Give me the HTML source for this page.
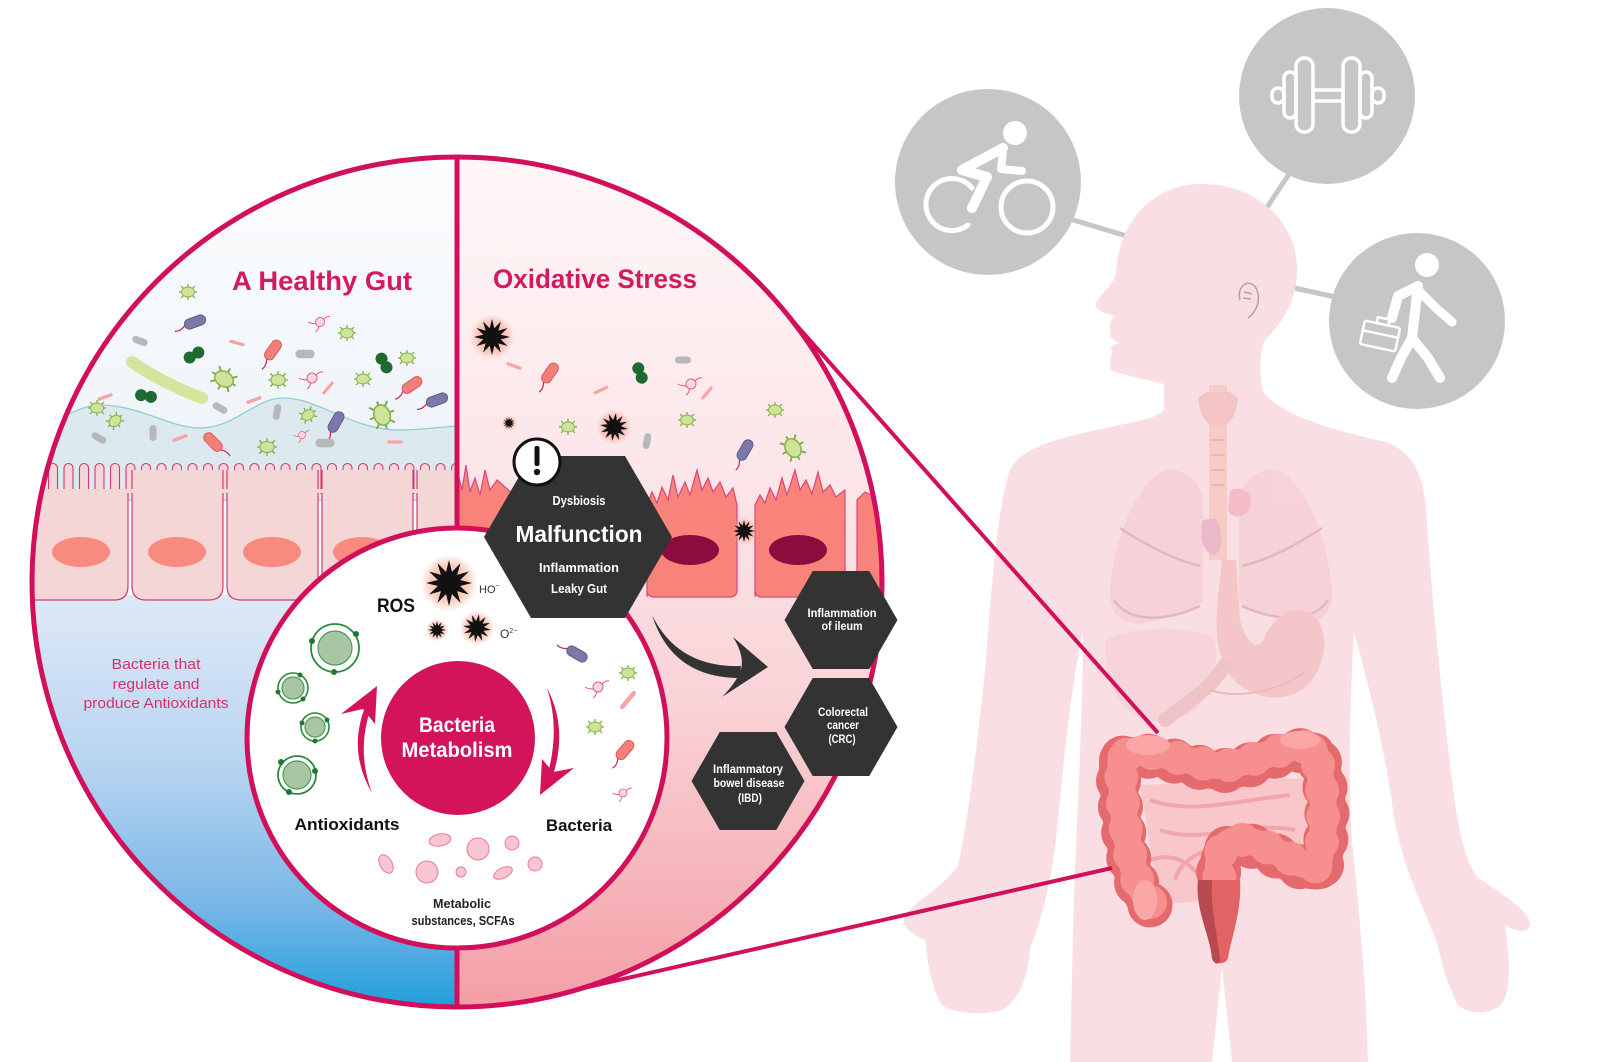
<!DOCTYPE html>
<html><head><meta charset="utf-8"><style>
html,body{margin:0;padding:0;background:#fff;}
svg{display:block;}
text{font-family:"Liberation Sans",sans-serif;}
</style></head><body>
<svg width="1600" height="1062" viewBox="0 0 1600 1062" xmlns="http://www.w3.org/2000/svg">
<defs>
  <clipPath id="bigc"><circle cx="457" cy="582" r="425"/></clipPath>
  <linearGradient id="ltop" x1="0" y1="157" x2="0" y2="470" gradientUnits="userSpaceOnUse">
    <stop offset="0" stop-color="#fcfdfe"/><stop offset="1" stop-color="#eef3f9"/></linearGradient>
  <linearGradient id="lbot" x1="0" y1="595" x2="0" y2="1010" gradientUnits="userSpaceOnUse">
    <stop offset="0" stop-color="#dfe9f7"/><stop offset="0.4" stop-color="#b9d5f1"/><stop offset="0.75" stop-color="#78b6e6"/><stop offset="1" stop-color="#1f9edb"/></linearGradient>
  <linearGradient id="rgr" x1="0" y1="157" x2="0" y2="1010" gradientUnits="userSpaceOnUse">
    <stop offset="0" stop-color="#fef7f8"/><stop offset="0.4" stop-color="#fce4e7"/><stop offset="0.65" stop-color="#f9d2d6"/><stop offset="1" stop-color="#f39ea5"/></linearGradient>
  <radialGradient id="glow"><stop offset="0.6" stop-color="#f59c86" stop-opacity="0.55"/><stop offset="1" stop-color="#f59c86" stop-opacity="0"/></radialGradient>
  <pattern id="villi" x="0" y="462" width="15.5" height="40" patternUnits="userSpaceOnUse">
    <path d="M2,40 L2,6 A4.5,4.5 0 0 1 11,6 L11,40" fill="#f5d6d6" stroke="#d43a74" stroke-width="1.1"/>
  </pattern>
  <g id="gb"><path d="M-9,0H-6M9,0H6M0,-8V-5M0,8V5M-7,-6L-4.5,-3.5M7,-6L4.5,-3.5M-7,6L-4.5,3.5M7,6L4.5,3.5" stroke="#79a843" stroke-width="1.2"/><ellipse rx="6.5" ry="5" fill="#cfe49a" stroke="#86b64a" stroke-width="1"/></g>
  <g id="rp"><path d="M-11,0 Q-17,4 -22,2" stroke="#c4205e" fill="none" stroke-width="1.2"/><rect x="-11" y="-5" width="22" height="10" rx="5" fill="#7c79a8" stroke="#5f5b8e"/></g>
  <g id="rs"><path d="M-11,0 Q-17,4 -22,2" stroke="#c4205e" fill="none" stroke-width="1.2"/><rect x="-11" y="-5" width="22" height="10" rx="5" fill="#f47f79" stroke="#d55d63"/></g>
  <g id="rg"><rect x="-8" y="-3.5" width="16" height="7" rx="3.5" fill="#b8b8b8"/></g>
  <g id="pl"><rect x="-8" y="-1.6" width="16" height="3.2" rx="1.6" fill="#f8a4a2"/></g>
  <g id="dc"><circle cx="-5" r="6" fill="#1e6b31"/><circle cx="5" r="6" fill="#1e6b31"/></g>
  <g id="pc"><path d="M-4,2 Q-10,2 -13,0 M-1,4 Q-2,9 -5,11 M4,-3 Q8,-7 11,-6" stroke="#e2537c" fill="none" stroke-width="1"/><circle r="5" fill="#fcd9de" stroke="#e0617f" stroke-width="1"/></g>
  <g id="st"><circle r="12.5" fill="url(#glow)"/><path d="M10,0 L4.83,1.29 L8.66,5 L3.54,3.54 L5,8.66 L1.29,4.83 L0,10 L-1.29,4.83 L-5,8.66 L-3.54,3.54 L-8.66,5 L-4.83,1.29 L-10,0 L-4.83,-1.29 L-8.66,-5 L-3.54,-3.54 L-5,-8.66 L-1.29,-4.83 L0,-10 L1.29,-4.83 L5,-8.66 L3.54,-3.54 L8.66,-5 L4.83,-1.29 Z" fill="#111"/></g>
</defs>

<!-- connectors to icons -->
<g stroke="#c6c6c6" stroke-width="5">
  <line x1="1060" y1="216" x2="1140" y2="240"/>
  <line x1="1295" y1="165" x2="1262" y2="215"/>
  <line x1="1285" y1="286" x2="1340" y2="298"/>
</g>

<!-- body -->
<path fill="#f9dfe3" d="M1197,184 C1255,182 1300,222 1297,275 C1295,305 1280,325 1265,340 C1258,355 1260,375 1263,392 C1285,418 1335,430 1385,442 C1412,450 1424,475 1426,510 C1432,600 1442,700 1452,780 C1458,830 1465,862 1478,878 C1500,892 1528,910 1530,923 C1530,933 1518,933 1505,925 C1510,960 1512,995 1500,1005 C1490,1015 1470,1015 1458,1005 C1448,985 1440,960 1438,945 C1420,900 1400,860 1393,810 C1385,750 1370,690 1354,632 C1350,700 1348,780 1352,840 C1358,900 1366,980 1368,1062 L1232,1062 L1222,968 L1212,1062 L1070,1062 C1072,980 1073,920 1075,870 C1078,800 1083,700 1083,632 C1070,690 1062,780 1056,840 C1050,890 1038,930 1030,948 C1028,985 1012,1012 992,1012 C975,1015 950,1012 942,1005 C932,990 928,965 925,940 C912,935 900,925 905,915 C915,902 945,885 958,866 C968,820 978,740 986,660 C992,580 998,505 1010,470 C1020,450 1045,442 1095,430 C1135,422 1158,418 1164,410 L1164,384 C1150,380 1125,376 1111,370 C1108,360 1112,355 1113,351 C1108,348 1112,345 1120,343 C1112,340 1108,336 1111,334 C1108,325 1112,318 1115,316 C1100,312 1094,308 1096,303 C1100,295 1112,285 1115,277 C1118,255 1120,240 1131,223 C1145,200 1170,185 1197,184 Z"/>
<!-- ear -->
<path d="M1240,300 C1236,285 1250,278 1256,288 C1262,300 1256,312 1248,318 M1244,292 L1252,294 M1243,298 L1251,299" stroke="#c09aa4" stroke-width="1.5" fill="none"/>
<!-- organs -->
<g opacity="0.9">
  <path d="M1165,470 C1140,480 1115,530 1110,590 C1108,615 1125,628 1150,622 C1175,616 1195,612 1203,600 L1203,500 C1200,480 1185,468 1165,470 Z" fill="#f6d0d6"/>
  <path d="M1277,470 C1302,480 1327,530 1332,590 C1334,615 1317,628 1292,622 C1267,616 1247,612 1239,600 L1239,500 C1242,480 1257,468 1277,470 Z" fill="#f6d0d6"/>
  <path d="M1120,528 C1150,548 1175,560 1200,566 M1114,600 C1130,625 1170,620 1200,606 M1322,528 C1292,548 1267,560 1242,566 M1328,600 C1312,625 1272,620 1242,606" stroke="#dcb5bc" stroke-width="2.5" fill="none"/>
  <path d="M1105,640 C1130,625 1200,625 1215,640 C1220,690 1200,720 1160,722 C1125,722 1105,690 1105,640 Z" fill="#f7d3d8"/>
  <path d="M1222,560 C1218,600 1212,630 1222,660 C1235,700 1290,710 1312,680 C1330,655 1328,622 1308,612 C1288,604 1270,622 1262,642 C1254,650 1246,640 1240,620 L1236,560 Z" fill="#f4c4c8"/>
  <path d="M1225,665 C1210,690 1190,700 1165,720" stroke="#eec0c3" stroke-width="14" fill="none" stroke-linecap="round"/>
  <path d="M1210,690 C1240,700 1280,690 1305,672" stroke="#e9b6ba" stroke-width="2" fill="none"/>
  <rect x="1209" y="385" width="18" height="175" fill="#f7cbc4"/>
  <path d="M1198,398 C1200,420 1210,428 1218,425 C1226,428 1236,420 1238,398 L1230,392 L1206,392 Z" fill="#f4c0c0"/>
  <g stroke="#e8aaa6" stroke-width="1.5"><line x1="1211" y1="440" x2="1225" y2="440"/><line x1="1211" y1="455" x2="1225" y2="455"/><line x1="1211" y1="470" x2="1225" y2="470"/><line x1="1211" y1="485" x2="1225" y2="485"/></g>
  <path d="M1230,490 C1245,485 1255,495 1250,508 C1245,518 1232,520 1228,510 Z" fill="#f3b9c4"/>
  <path d="M1203,520 C1198,540 1205,555 1215,555 C1225,548 1222,525 1215,518 Z" fill="#e9b7c6"/>
</g>
<!-- small intestine -->
<path d="M1140,785 L1305,778 L1308,860 L1255,836 L1215,845 L1205,900 L1160,905 Z" fill="#f9c6c9"/>
<path d="M1150,800 C1190,815 1240,800 1290,795 M1160,830 C1200,845 1250,820 1295,830 M1150,860 C1180,850 1200,870 1205,890 M1175,880 C1180,860 1200,850 1230,845" stroke="#f1a6ab" stroke-width="4" fill="none"/>
<!-- colon -->
<g fill="none" stroke-linecap="round" stroke-linejoin="round">
  <path d="M1150,905 C1125,880 1118,800 1118,760 C1150,745 1200,775 1230,770 C1260,765 1290,745 1315,752 C1330,780 1330,840 1320,870 C1300,875 1260,840 1235,845 C1215,850 1218,870 1220,885" stroke="#e46a6d" stroke-width="38"/>
  <path d="M1150,905 C1125,880 1118,800 1118,760 C1150,745 1200,775 1230,770 C1260,765 1290,745 1315,752 C1330,780 1330,840 1320,870 C1300,875 1260,840 1235,845 C1215,850 1218,870 1220,885" stroke="#e46a6d" stroke-width="45" stroke-dasharray="0 26"/>
  <path d="M1150,902 C1127,878 1121,800 1121,757 C1150,742 1200,770 1230,765 C1260,760 1290,742 1313,748 C1326,780 1326,840 1317,866 C1300,870 1260,836 1235,840 C1215,846 1218,868 1220,882" stroke="#f68f8e" stroke-width="27"/>
  <path d="M1150,902 C1127,878 1121,800 1121,757 C1150,742 1200,770 1230,765 C1260,760 1290,742 1313,748 C1326,780 1326,840 1317,866 C1300,870 1260,836 1235,840 C1215,846 1218,868 1220,882" stroke="#f68f8e" stroke-width="34" stroke-dasharray="0 26"/>
</g>
<ellipse cx="1148" cy="745" rx="22" ry="10" fill="#fba6a6"/>
<ellipse cx="1300" cy="740" rx="20" ry="9" fill="#fba6a6"/>
<ellipse cx="1145" cy="900" rx="12" ry="20" fill="#fba6a6"/>
<path d="M1198,880 C1195,910 1210,935 1212,958 C1214,965 1226,965 1228,958 C1232,935 1242,910 1240,880 Z" fill="#e26363"/>
<path d="M1198,880 C1195,910 1210,935 1212,958 C1214,965 1220,965 1220,960 C1218,935 1210,910 1212,880 Z" fill="#b64a50"/>

<!-- pink connector lines -->
<g stroke="#d10f5b" stroke-width="4">
  <line x1="775" y1="301" x2="1158" y2="733"/>
  <line x1="548" y1="996" x2="1112" y2="868"/>
</g>

<!-- icon circles -->
<circle cx="988" cy="182" r="93" fill="#c6c6c6"/>
<circle cx="1327" cy="96" r="88" fill="#c6c6c6"/>
<circle cx="1417" cy="321" r="88" fill="#c6c6c6"/>
<!-- bike -->
<g fill="none" stroke="#fff" stroke-linecap="round" stroke-linejoin="round">
  <path d="M972,188 A26,26 0 1 0 968,225" stroke-width="5"/>
  <circle cx="1027" cy="207" r="26" stroke-width="5"/>
  <polyline points="1003,148 962,170 987,177 972,208" stroke-width="10"/>
  <polyline points="1003,150 1001,169 1022,171" stroke-width="8"/>
</g>
<circle cx="1015" cy="133" r="12" fill="#fff"/>
<!-- dumbbell -->
<g fill="none" stroke="#fff" stroke-width="3.5">
  <rect x="1313" y="90" width="30" height="11"/>
  <rect x="1296" y="58" width="17" height="74" rx="8"/>
  <rect x="1284" y="72" width="12" height="46" rx="6"/>
  <rect x="1272" y="88" width="12" height="15" rx="6"/>
  <rect x="1343" y="58" width="17" height="74" rx="8"/>
  <rect x="1360" y="72" width="12" height="46" rx="6"/>
  <rect x="1372" y="88" width="12" height="15" rx="6"/>
</g>
<!-- walker -->
<g fill="none" stroke="#fff" stroke-linecap="round" stroke-linejoin="round">
  <polyline points="1392,318 1398,296 1418,286 1412,338 1401,358 1392,378" stroke-width="10"/>
  <polyline points="1418,290 1436,308 1452,322" stroke-width="9"/>
  <polyline points="1412,338 1428,358 1440,378" stroke-width="10"/>
  <g transform="rotate(12 1380 336)" stroke-width="2.5"><rect x="1362" y="324" width="36" height="24" rx="2"/><rect x="1374" y="318" width="12" height="6"/><line x1="1362" y1="334" x2="1398" y2="334"/></g>
</g>
<circle cx="1427" cy="265" r="12" fill="#fff"/>

<!-- big circle -->
<g clip-path="url(#bigc)">
  <rect x="30" y="150" width="427" height="330" fill="url(#ltop)"/>
  <path d="M30,432 C60,420 80,405 100,405 C140,405 170,428 200,428 C235,428 255,398 283,398 C320,398 350,430 400,430 C420,430 440,427 457,426 L457,500 L30,500 Z" fill="#dce9ef" stroke="#8fcfcf" stroke-width="1.3"/>
  <rect x="30" y="595" width="427" height="420" fill="url(#lbot)"/>
  <rect x="457" y="150" width="430" height="865" fill="url(#rgr)"/>
  <!-- healthy cells -->
  <rect x="30" y="462" width="427" height="32" fill="url(#villi)"/>
  <g fill="#f5d6d6" stroke="#d43a74" stroke-width="1.2">
    <path d="M30,490 L128,490 L128,586 Q128,600 114,600 L30,600 Z"/>
    <path d="M132,470 L132,586 Q132,600 146,600 L209,600 Q223,600 223,586 L223,470"/>
    <path d="M227,470 L227,586 Q227,600 241,600 L304,600 Q318,600 318,586 L318,470"/>
    <path d="M322,470 L322,586 Q322,600 336,600 L399,600 Q413,600 413,586 L413,470"/>
    <path d="M417,470 L417,600 L457,600 L457,470"/>
  </g>
  <rect x="30" y="489" width="427" height="4" fill="#f5d6d6"/>
  <g fill="#f98a80">
    <ellipse cx="81" cy="552" rx="29" ry="15"/><ellipse cx="177" cy="552" rx="29" ry="15"/>
    <ellipse cx="272" cy="552" rx="29" ry="15"/><ellipse cx="362" cy="552" rx="29" ry="15"/>
  </g>
  <!-- damaged cells -->
  <g fill="#f8837b" stroke="#d9467a" stroke-width="1.2">
    <path d="M457,600 L457,470 L462,490 L466,465 L470,492 L475,478 L480,495 L485,470 L490,490 L497,480 L520,500 L520,600 Z"/>
    <path d="M647,597 L647,505 L652,492 L657,503 L662,487 L668,500 L673,475 L678,497 L685,482 L690,495 L697,470 L702,490 L708,478 L713,492 L720,482 L726,497 L733,488 L737,505 L737,590 Q737,597 730,597 L654,597 Q647,597 647,590 Z"/>
    <path d="M755,597 L755,505 L760,495 L765,503 L770,488 L776,500 L782,478 L787,495 L795,470 L800,490 L806,480 L812,494 L818,472 L823,492 L830,485 L836,497 L845,490 L845,590 Q845,597 838,597 L762,597 Q755,597 755,590 Z"/>
    <path d="M857,597 L857,500 L865,492 L875,497 L885,490 L890,597 Z"/>
  </g>
  <ellipse cx="690" cy="550" rx="29" ry="15" fill="#8e0b3d"/>
  <ellipse cx="798" cy="550" rx="29" ry="15" fill="#8e0b3d"/>
  <!-- healthy bacteria -->
  <path d="M132,362 C150,375 180,390 202,398" stroke="#d5e59d" stroke-width="12" stroke-linecap="round" fill="none"/>
  <use href="#gb" transform="translate(188,292)"/><use href="#gb" transform="translate(347,333)"/>
  <use href="#gb" transform="translate(407,358)"/><use href="#gb" transform="translate(224,379) scale(1.5) rotate(30)"/>
  <use href="#gb" transform="translate(278,380) scale(1.1)"/><use href="#gb" transform="translate(363,379)"/>
  <use href="#gb" transform="translate(97,408)"/><use href="#gb" transform="translate(115,421) rotate(-40)"/>
  <use href="#gb" transform="translate(308,415) rotate(-30)"/><use href="#gb" transform="translate(382,415) scale(1.6) rotate(70)"/>
  <use href="#gb" transform="translate(267,447) scale(1.1)"/>
  <use href="#rp" transform="translate(195,322) rotate(-20)"/><use href="#rp" transform="translate(336,422) rotate(-60)"/>
  <use href="#rp" transform="translate(437,400) rotate(-20)"/>
  <use href="#dc" transform="translate(194,355) rotate(-30)"/><use href="#dc" transform="translate(146,396) rotate(10)"/>
  <use href="#dc" transform="translate(384,363) rotate(60)"/>
  <use href="#rg" transform="translate(140,341) rotate(20)"/><use href="#rg" transform="translate(305,354) scale(1.2)"/>
  <use href="#rg" transform="translate(220,408) rotate(30)"/><use href="#rg" transform="translate(153,433) rotate(90)"/>
  <use href="#rg" transform="translate(277,412) rotate(100)"/><use href="#rg" transform="translate(325,443) scale(1.2)"/>
  <use href="#rg" transform="translate(99,438) rotate(30)"/>
  <use href="#rs" transform="translate(273,350) rotate(-55)"/><use href="#rs" transform="translate(412,385) rotate(-35)"/>
  <use href="#rs" transform="translate(213,442) rotate(-135)"/>
  <use href="#pl" transform="translate(237,343) rotate(15)"/><use href="#pl" transform="translate(105,397) rotate(-20)"/>
  <use href="#pl" transform="translate(254,400) rotate(-20)"/><use href="#pl" transform="translate(328,388) rotate(-50)"/>
  <use href="#pl" transform="translate(180,438) rotate(-20)"/><use href="#pl" transform="translate(395,442)"/>
  <use href="#pc" transform="translate(320,322) scale(0.9)"/><use href="#pc" transform="translate(312,378)"/>
  <use href="#pc" transform="translate(302,435) scale(0.7)"/>
  <!-- oxidative bacteria -->
  <use href="#st" transform="translate(492,337) scale(1.8)"/><use href="#st" transform="translate(509,423) scale(0.6)"/>
  <use href="#st" transform="translate(614,427) scale(1.4) rotate(8)"/><use href="#st" transform="translate(744,531) scale(1.1)"/>
  <use href="#rs" transform="translate(550,373) rotate(-55)"/>
  <use href="#pl" transform="translate(514,366) rotate(20)"/><use href="#pl" transform="translate(601,390) rotate(-25)"/>
  <use href="#pl" transform="translate(707,393) rotate(-50)"/>
  <use href="#dc" transform="translate(640,373) rotate(70)"/>
  <use href="#rg" transform="translate(683,360)"/><use href="#rg" transform="translate(647,441) rotate(100)"/>
  <use href="#pc" transform="translate(691,384)"/>
  <use href="#gb" transform="translate(568,427)"/><use href="#gb" transform="translate(687,420)"/>
  <use href="#gb" transform="translate(775,410)"/><use href="#gb" transform="translate(793,448) scale(1.5) rotate(60)"/>
  <use href="#rp" transform="translate(745,450) rotate(-60)"/>
  <line x1="457" y1="150" x2="457" y2="1015" stroke="#d10f5b" stroke-width="5"/>
</g>
<circle cx="457" cy="582" r="425" fill="none" stroke="#d10f5b" stroke-width="5"/>

<!-- inner circle -->
<circle cx="457" cy="738" r="210" fill="#fff" stroke="#d10f5b" stroke-width="5"/>
<use href="#st" transform="translate(449,583) scale(2.3)"/>
<use href="#st" transform="translate(437,630) scale(0.9)"/>
<use href="#st" transform="translate(477,628) scale(1.4) rotate(8)"/>
<text x="396" y="612" font-size="19" font-weight="bold" fill="#111" text-anchor="middle" textLength="38" lengthAdjust="spacingAndGlyphs">ROS</text>
<text x="479" y="593" font-size="11" fill="#333">HO<tspan font-size="7" dy="-5">−</tspan></text>
<text x="500" y="638" font-size="12" fill="#333">O<tspan font-size="7" dy="-5">2−</tspan></text>
<!-- antioxidants -->
<g>
  <circle cx="335" cy="648" r="24" fill="#fff" stroke="#2a8a3c" stroke-width="1.8"/><circle cx="335" cy="648" r="17" fill="#a9c6a3" stroke="#4d9a5c" stroke-width="1.2"/>
  <circle cx="293" cy="688" r="15" fill="#fff" stroke="#2a8a3c" stroke-width="1.6"/><circle cx="293" cy="688" r="11" fill="#a9c6a3" stroke="#4d9a5c" stroke-width="1.2"/>
  <circle cx="315" cy="727" r="14" fill="#fff" stroke="#2a8a3c" stroke-width="1.6"/><circle cx="315" cy="727" r="10" fill="#a9c6a3" stroke="#4d9a5c" stroke-width="1.2"/>
  <circle cx="297" cy="775" r="19" fill="#fff" stroke="#2a8a3c" stroke-width="1.8"/><circle cx="297" cy="775" r="14" fill="#a9c6a3" stroke="#4d9a5c" stroke-width="1.2"/>
  <g fill="#1e7a2e">
    <circle cx="312" cy="641" r="3"/><circle cx="356" cy="634" r="3"/><circle cx="334" cy="672" r="3"/>
    <circle cx="300" cy="675" r="2.5"/><circle cx="303" cy="699" r="2.5"/><circle cx="278" cy="692" r="2.5"/>
    <circle cx="327" cy="720" r="2.5"/><circle cx="315" cy="741" r="2.5"/><circle cx="302" cy="723" r="2.5"/>
    <circle cx="281" cy="762" r="3"/><circle cx="315" cy="771" r="3"/><circle cx="289" cy="792" r="3"/>
  </g>
</g>
<!-- bacteria metabolism -->
<circle cx="458" cy="738" r="77" fill="#d3145a"/>
<text x="457" y="732" font-size="21" font-weight="bold" fill="#fff" text-anchor="middle" textLength="76" lengthAdjust="spacingAndGlyphs">Bacteria</text>
<text x="457" y="757" font-size="21" font-weight="bold" fill="#fff" text-anchor="middle" textLength="111" lengthAdjust="spacingAndGlyphs">Metabolism</text>
<!-- pink curved arrows -->
<path d="M372,793 Q347,750 366,705 L371,708 Q356,750 372,793 Z" fill="#d3145a"/>
<polygon points="377,686 341,714 363,709 375,724" fill="#d3145a"/>
<path d="M547,688 Q568,728 553,775 L548,773 Q560,728 547,688 Z" fill="#d3145a"/>
<polygon points="540,795 574,768 553,772 542,759" fill="#d3145a"/>
<!-- inner bacteria -->
<use href="#rp" transform="translate(577,654) rotate(30)"/>
<use href="#gb" transform="translate(628,673)"/><use href="#gb" transform="translate(595,727)"/>
<use href="#pc" transform="translate(598,687)"/><use href="#pc" transform="translate(623,793) scale(0.8)"/>
<use href="#pl" transform="translate(628,700) rotate(-50) scale(1.4)"/>
<use href="#rs" transform="translate(625,750) rotate(-50)"/>
<!-- metabolic blobs -->
<g fill="#f8c6d0" stroke="#e87b96" stroke-width="1">
  <ellipse cx="440" cy="840" rx="11" ry="6" transform="rotate(-10 440 840)"/>
  <ellipse cx="386" cy="864" rx="6" ry="10" transform="rotate(-30 386 864)"/>
  <circle cx="427" cy="872" r="11"/><circle cx="461" cy="872" r="5"/>
  <circle cx="478" cy="849" r="11"/><circle cx="512" cy="843" r="7"/>
  <ellipse cx="503" cy="873" rx="10" ry="5" transform="rotate(-25 503 873)"/>
  <circle cx="535" cy="864" r="7"/>
</g>
<text x="347" y="830" font-size="17" font-weight="bold" fill="#111" text-anchor="middle" textLength="105" lengthAdjust="spacingAndGlyphs">Antioxidants</text>
<text x="579" y="831" font-size="17" font-weight="bold" fill="#111" text-anchor="middle" textLength="66" lengthAdjust="spacingAndGlyphs">Bacteria</text>
<text x="462" y="908" font-size="13" font-weight="bold" fill="#222" text-anchor="middle" textLength="58" lengthAdjust="spacingAndGlyphs">Metabolic</text>
<text x="463" y="925" font-size="13" font-weight="bold" fill="#222" text-anchor="middle" textLength="103" lengthAdjust="spacingAndGlyphs">substances, SCFAs</text>

<!-- titles -->
<text x="322" y="290" font-size="27" font-weight="bold" fill="#d41a5e" text-anchor="middle" textLength="180" lengthAdjust="spacingAndGlyphs">A Healthy Gut</text>
<text x="595" y="288" font-size="27" font-weight="bold" fill="#d41a5e" text-anchor="middle" textLength="204" lengthAdjust="spacingAndGlyphs">Oxidative Stress</text>
<g font-size="15" fill="#d9306a" text-anchor="middle">
  <text x="156" y="669" textLength="89" lengthAdjust="spacingAndGlyphs">Bacteria that</text>
  <text x="156" y="689" textLength="87" lengthAdjust="spacingAndGlyphs">regulate and</text>
  <text x="156" y="708" textLength="145" lengthAdjust="spacingAndGlyphs">produce Antioxidants</text>
</g>

<!-- malfunction hexagon -->
<polygon points="484,537 531,456 625,456 672,537 625,618 531,618" fill="#333"/>
<circle cx="537" cy="462" r="23" fill="#fff" stroke="#111" stroke-width="3"/>
<rect x="534.5" y="446" width="5" height="20" rx="2" fill="#111"/>
<circle cx="537" cy="472" r="3.2" fill="#111"/>
<g fill="#fff" font-weight="bold" text-anchor="middle">
  <text x="579" y="505" font-size="13" textLength="53" lengthAdjust="spacingAndGlyphs">Dysbiosis</text>
  <text x="579" y="542" font-size="23" textLength="127" lengthAdjust="spacingAndGlyphs">Malfunction</text>
  <text x="579" y="572" font-size="13" textLength="80" lengthAdjust="spacingAndGlyphs">Inflammation</text>
  <text x="579" y="593" font-size="13" textLength="56" lengthAdjust="spacingAndGlyphs">Leaky Gut</text>
</g>
<!-- dark arrow -->
<path d="M652,615 Q678,668 741,666 L740,678 Q672,678 652,615 Z" fill="#333"/>
<path d="M768,667 L733,637 Q746,658 740,672 Q735,684 722,697 Z" fill="#333"/>
<!-- disease hexagons -->
<polygon points="784.5,620 812.75,571 869.25,571 897.5,620 869.25,669 812.75,669" fill="#333"/>
<polygon points="784.5,727 812.75,678 869.25,678 897.5,727 869.25,776 812.75,776" fill="#333"/>
<polygon points="691.5,781 719.75,732 776.25,732 804.5,781 776.25,830 719.75,830" fill="#333"/>
<g fill="#fff" font-weight="bold" font-size="11.5" text-anchor="middle">
  <text x="842" y="617" textLength="69" lengthAdjust="spacingAndGlyphs">Inflammation</text>
  <text x="842" y="630" textLength="41" lengthAdjust="spacingAndGlyphs">of ileum</text>
  <text x="843" y="716" textLength="50" lengthAdjust="spacingAndGlyphs">Colorectal</text>
  <text x="843" y="729" textLength="32" lengthAdjust="spacingAndGlyphs">cancer</text>
  <text x="842" y="743" textLength="27" lengthAdjust="spacingAndGlyphs">(CRC)</text>
  <text x="748" y="773" textLength="70" lengthAdjust="spacingAndGlyphs">Inflammatory</text>
  <text x="749" y="787" textLength="71" lengthAdjust="spacingAndGlyphs">bowel disease</text>
  <text x="750" y="802" textLength="24" lengthAdjust="spacingAndGlyphs">(IBD)</text>
</g>
</svg>
</body></html>
